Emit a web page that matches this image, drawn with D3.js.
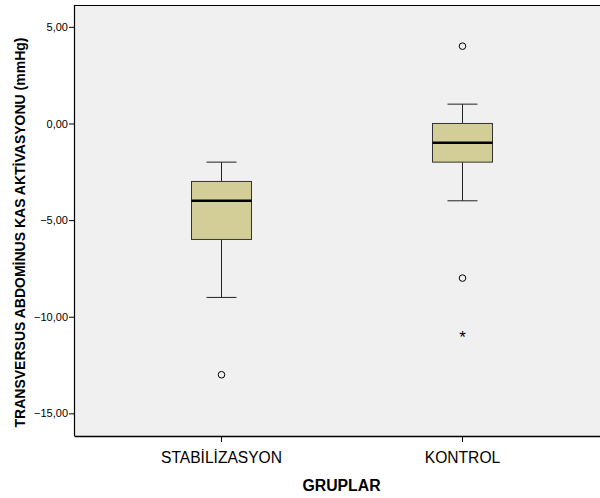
<!DOCTYPE html>
<html>
<head>
<meta charset="utf-8">
<script src="https://cdn.jsdelivr.net/npm/d3@7"></script>
<style>
  body { margin: 0; background: #fff; }
  svg { display: block; font-family: Arial, "Liberation Sans", sans-serif; }
</style>
</head>
<body>
<svg id="chart" width="600" height="498"></svg>
<script>
// Group names and five-number summaries (mmHg)
const groups = ["STABİLİZASYON", "KONTROL"];
const whiskerLow = [-9, -4];
const q1 = [-6, -2];
const median = [-4, -1];
const q3 = [-3, 0];
const whiskerHigh = [-2, 1];
// Outliers (circles) and extreme values (stars)
const outlierGroup = ["STABİLİZASYON", "KONTROL", "KONTROL"];
const outlierValue = [-13, 4, -8];
const extremeGroup = ["KONTROL"];
const extremeValue = [-11];
const yTicks = [5, 0, -5, -10, -15];

const svg = d3.select("#chart");
const m = { left: 74, top: 5, right: 609, bottom: 436 };

const y = d3.scaleLinear().domain([-16.17, 6.13]).range([m.bottom, m.top]);
const x = d3.scalePoint().domain(groups).range([m.left, m.right]).padding(0.61);

// Plot background
svg.append("rect")
  .attr("x", m.left).attr("y", m.top)
  .attr("width", m.right - m.left).attr("height", m.bottom - m.top)
  .attr("fill", "#f0f0f0");

// Top frame line
svg.append("line")
  .attr("x1", m.left).attr("x2", m.right)
  .attr("y1", m.top + 0.5).attr("y2", m.top + 0.5)
  .attr("stroke", "#000").attr("stroke-width", 1);

// Y axis
const yAxis = svg.append("g")
  .attr("transform", `translate(${m.left},0)`)
  .call(d3.axisLeft(y).tickValues(yTicks).tickSize(5).tickSizeOuter(0)
    .tickFormat(d => d3.format(".2f")(d).replace(".", ",")));
yAxis.select(".domain").attr("stroke", "#000").attr("stroke-width", 1.2)
  .attr("d", `M0.5,${m.top}V${m.bottom}`);
yAxis.selectAll(".tick line").attr("stroke", "#000");
yAxis.selectAll(".tick text").attr("font-size", 11).attr("fill", "#000")
  .attr("font-family", "Arial, 'Liberation Sans', sans-serif").attr("x", -6);

// X axis
const xAxis = svg.append("g")
  .attr("transform", `translate(0,${m.bottom})`)
  .call(d3.axisBottom(x).tickSize(6).tickSizeOuter(0));
xAxis.select(".domain").attr("stroke", "#000").attr("stroke-width", 1.6);
xAxis.selectAll(".tick line").attr("stroke", "#000");
xAxis.selectAll(".tick text").attr("font-size", 15.6).attr("fill", "#000")
  .attr("font-family", "Arial, 'Liberation Sans', sans-serif").attr("dy", null).attr("y", 27);

// Box plots
const boxW = 60, capW = 30;
const boxes = svg.append("g");
groups.forEach((g, i) => {
  const cx = Math.round(x(g)) + 0.5;
  // whiskers
  boxes.append("line").attr("x1", cx).attr("x2", cx)
    .attr("y1", y(whiskerHigh[i])).attr("y2", y(q3[i]))
    .attr("stroke", "#222").attr("stroke-width", 1);
  boxes.append("line").attr("x1", cx).attr("x2", cx)
    .attr("y1", y(q1[i])).attr("y2", y(whiskerLow[i]))
    .attr("stroke", "#222").attr("stroke-width", 1);
  [whiskerHigh[i], whiskerLow[i]].forEach(v => {
    boxes.append("line").attr("x1", cx - capW / 2).attr("x2", cx + capW / 2)
      .attr("y1", y(v)).attr("y2", y(v))
      .attr("stroke", "#222").attr("stroke-width", 1);
  });
  // box
  boxes.append("rect")
    .attr("x", cx - boxW / 2).attr("y", y(q3[i]))
    .attr("width", boxW).attr("height", y(q1[i]) - y(q3[i]))
    .attr("fill", "#d3ce97").attr("stroke", "#333").attr("stroke-width", 1);
  // median
  boxes.append("line").attr("x1", cx - boxW / 2).attr("x2", cx + boxW / 2)
    .attr("y1", y(median[i])).attr("y2", y(median[i]))
    .attr("stroke", "#000").attr("stroke-width", 2.5);
});

// Outliers
svg.append("g").selectAll("circle")
  .data(outlierValue.map((v, i) => ({ g: outlierGroup[i], v })))
  .join("circle")
  .attr("cx", d => Math.round(x(d.g)) + 0.5).attr("cy", d => y(d.v))
  .attr("r", 3.3).attr("fill", "none").attr("stroke", "#000").attr("stroke-width", 1);

// Extreme values
svg.append("g").selectAll("text")
  .data(extremeValue.map((v, i) => ({ g: extremeGroup[i], v })))
  .join("text")
  .attr("x", d => Math.round(x(d.g)) + 0.5).attr("y", d => y(d.v) + 7)
  .attr("text-anchor", "middle").attr("font-size", 17).attr("fill", "#000")
  .text("*");

// Axis titles
svg.append("text")
  .attr("transform", `translate(25,${(m.top + m.bottom) / 2 + 12}) rotate(-90)`)
  .attr("text-anchor", "middle").attr("font-size", 14).attr("font-weight", "bold")
  .text("TRANSVERSUS ABDOMİNUS KAS AKTİVASYONU (mmHg)");
svg.append("text")
  .attr("x", 341.5).attr("y", 491)
  .attr("text-anchor", "middle").attr("font-size", 15.8).attr("font-weight", "bold")
  .text("GRUPLAR");
</script>
</body>
</html>
